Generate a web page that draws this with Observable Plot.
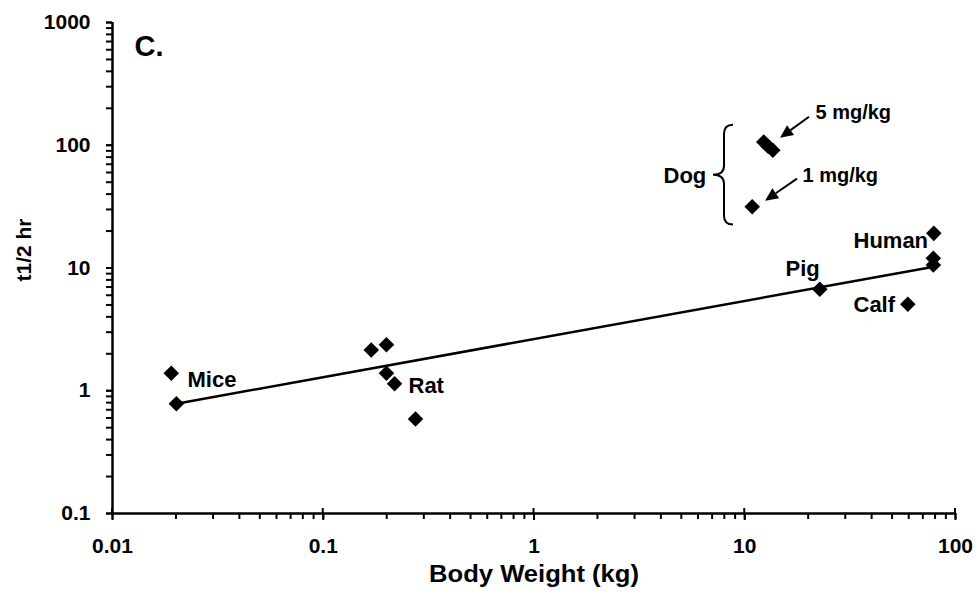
<!DOCTYPE html>
<html>
<head>
<meta charset="utf-8">
<script src="https://cdn.jsdelivr.net/npm/d3@7"></script>
<script src="https://cdn.jsdelivr.net/npm/@observablehq/plot@0.6"></script>
<style>
  html, body { margin: 0; padding: 0; background: #ffffff; }
  #chart svg { display: block; }
</style>
</head>
<body>
<div id="chart"></div>
<script>
// ---- data ----
const species    = ["Mice", "Mice", "Rat", "Rat", "Rat", "Rat", "Rat", "Pig", "Calf", "Human", "Human", "Human", "Dog 1 mg/kg", "Dog 5 mg/kg", "Dog 5 mg/kg", "Dog 5 mg/kg"];
const bodyWeight = [0.0190, 0.0201, 0.169, 0.1995, 0.1995, 0.218, 0.274, 22.7, 59.4, 78.9, 78.5, 78.5, 10.85, 12.31, 12.9, 13.59];
const halfLife   = [1.39, 0.784, 2.15, 2.37, 1.39, 1.14, 0.589, 6.71, 5.07, 19.15, 12.0, 10.58, 31.5, 106.4, 98.0, 91.0];

// fitted regression line (end points)
const fitWeight   = [0.0201, 78.9];
const fitHalfLife = [0.784, 10.25];

// axis ticks
const xTicksMajor = [0.01, 0.1, 1, 10, 100];
const xTickLabels = ["0.01", "0.1", "1", "10", "100"];
const yTicksMajor = [0.1, 1, 10, 100, 1000];
const yTickLabels = ["0.1", "1", "10", "100", "1000"];
const xTitle = "Body Weight (kg)";
const yTitle = "t1/2 hr";

// annotations (data coordinates)
const panelText = ["C."];
const panelX = [0.01272];
const panelY = [529];

const labelText = ["Mice", "Rat", "Pig", "Human", "Calf", "Dog"];
const labelX    = [0.0227, 0.2538, 15.61, 32.81, 32.81, 4.117];
const labelY    = [1.078, 0.963, 8.61, 14.54, 4.39, 49.1];

const doseText = ["5 mg/kg", "1 mg/kg"];
const doseX    = [21.66, 18.79];
const doseY    = [162.7, 50.0];

const arrowX1 = [20.29, 17.80];
const arrowY1 = [168.9, 52.9];
const arrowX2 = [14.78, 12.55];
const arrowY2 = [114.0, 35.05];

const braceX = [8.843];
const braceTipX = [7.108];
const braceTop = [145.4];
const braceMid = [57.0];
const braceBottom = [22.37];

// ---- tables built from the arrays ----
const points = species.map((s, i) => ({species: s, w: bodyWeight[i], t: halfLife[i]}));
const fit = fitWeight.map((w, i) => ({w, t: fitHalfLife[i]}));
const labels = labelText.map((t, i) => ({text: t, x: labelX[i], y: labelY[i]}));
const doses = doseText.map((t, i) => ({text: t, x: doseX[i], y: doseY[i]}));
const panel = panelText.map((t, i) => ({text: t, x: panelX[i], y: panelY[i]}));

const xTicksMinor = d3.scaleLog().domain([0.01, 100]).ticks();
const yTicksMinor = d3.scaleLog().domain([0.1, 1000]).ticks();

const FONT = "'Liberation Sans', Arial, Helvetica, sans-serif";

// custom annotation mark: brace, arrows, crossing major x ticks
function annotations(index, scales, values, dimensions) {
  const x = scales.x, y = scales.y;
  const g = d3.create("svg:g");
  // brace
  for (let i = 0; i < braceX.length; i++) {
    const xb = x(braceX[i]), xt = x(braceTipX[i]);
    const yt = y(braceTop[i]), ym = y(braceMid[i]), yb = y(braceBottom[i]);
    const xv = (xb + xt) / 2 + 1;
    const r = 9;
    g.append("path")
      .attr("d", `M${xb},${yt}Q${xv},${yt} ${xv},${yt + r}L${xv},${ym - r}Q${xv},${ym} ${xt},${ym}Q${xv},${ym} ${xv},${ym + r}L${xv},${yb - r}Q${xv},${yb} ${xb},${yb}`)
      .attr("fill", "none").attr("stroke", "black").attr("stroke-width", 2);
  }
  // arrows with filled heads
  for (let i = 0; i < arrowX1.length; i++) {
    const x1 = x(arrowX1[i]), y1 = y(arrowY1[i]), x2 = x(arrowX2[i]), y2 = y(arrowY2[i]);
    const a = Math.atan2(y2 - y1, x2 - x1);
    const L = 13, W = 6;
    const bx = x2 - L * Math.cos(a), by = y2 - L * Math.sin(a);
    g.append("line").attr("x1", x1).attr("y1", y1).attr("x2", bx).attr("y2", by)
      .attr("stroke", "black").attr("stroke-width", 2);
    g.append("path")
      .attr("d", `M${x2},${y2}L${bx + W * Math.sin(a)},${by - W * Math.cos(a)}L${bx - W * Math.sin(a)},${by + W * Math.cos(a)}Z`)
      .attr("fill", "black");
  }
  // major x ticks cross the axis
  const y0 = y(yTicksMajor[0]);
  for (const v of xTicksMajor) {
    g.append("line").attr("x1", x(v)).attr("x2", x(v)).attr("y1", y0 - 5).attr("y2", y0)
      .attr("stroke", "black").attr("stroke-width", 2);
  }
  return g.node();
}

const chart = Plot.plot({
  width: 976,
  height: 599,
  marginLeft: 112,
  marginRight: 21,
  marginTop: 22,
  marginBottom: 86,
  x: {type: "log", domain: [0.01, 100]},
  y: {type: "log", domain: [0.1, 1000]},
  style: {fontFamily: FONT, fontWeight: "bold", color: "black", background: "white", overflow: "visible"},
  marks: [
    // minor ticks
    Plot.axisX({ticks: xTicksMinor, tickSize: 6, strokeWidth: 2, tickFormat: () => "", label: null}),
    Plot.axisY({ticks: yTicksMinor, tickSize: 6, strokeWidth: 2, tickFormat: () => "", label: null}),
    // major ticks + labels
    Plot.axisX({ticks: xTicksMajor, tickSize: 7, tickPadding: 18, strokeWidth: 2, fontSize: 21, fontWeight: "bold",
      tickFormat: d => xTickLabels[xTicksMajor.indexOf(d)], label: null}),
    Plot.axisY({ticks: yTicksMajor, tickSize: 6, tickPadding: 16, strokeWidth: 2, fontSize: 21, fontWeight: "bold",
      tickFormat: d => yTickLabels[yTicksMajor.indexOf(d)], label: null}),
    // axis lines
    Plot.ruleX([xTicksMajor[0]], {stroke: "black", strokeWidth: 2.5}),
    Plot.ruleY([yTicksMajor[0]], {stroke: "black", strokeWidth: 2.5}),
    // regression line
    Plot.line(fit, {x: "w", y: "t", stroke: "black", strokeWidth: 2.5}),
    // points
    Plot.dot(points, {x: "w", y: "t", symbol: "diamond2", r: 7, fill: "black", stroke: "none"}),
    // annotations
    annotations,
    Plot.text(labels, {x: "x", y: "y", text: "text", textAnchor: "start", lineAnchor: "bottom", fontSize: 22, fontWeight: "bold", fill: "black"}),
    Plot.text(doses, {x: "x", y: "y", text: "text", textAnchor: "start", lineAnchor: "bottom", fontSize: 20, fontWeight: "bold", fill: "black"}),
    Plot.text(panel, {x: "x", y: "y", text: "text", textAnchor: "start", lineAnchor: "bottom", fontSize: 29, fontWeight: "bold", fill: "black"}),
    // axis titles
    Plot.text([xTitle], {frameAnchor: "bottom", text: d => d, textAnchor: "middle", lineAnchor: "bottom", dy: 68, fontSize: 23, fontWeight: "bold", fill: "black"}),
    Plot.text([yTitle], {frameAnchor: "left", text: d => d, rotate: -90, textAnchor: "middle", lineAnchor: "bottom", dx: -82, dy: -18, fontSize: 21, fontWeight: "bold", fill: "black"})
  ]
});

document.getElementById("chart").appendChild(chart);

// widen the x-axis title to the reference's measured length
d3.select(chart).selectAll("text").filter(function() { return this.textContent === xTitle; })
  .attr("textLength", 210).attr("lengthAdjust", "spacingAndGlyphs");
</script>
</body>
</html>
